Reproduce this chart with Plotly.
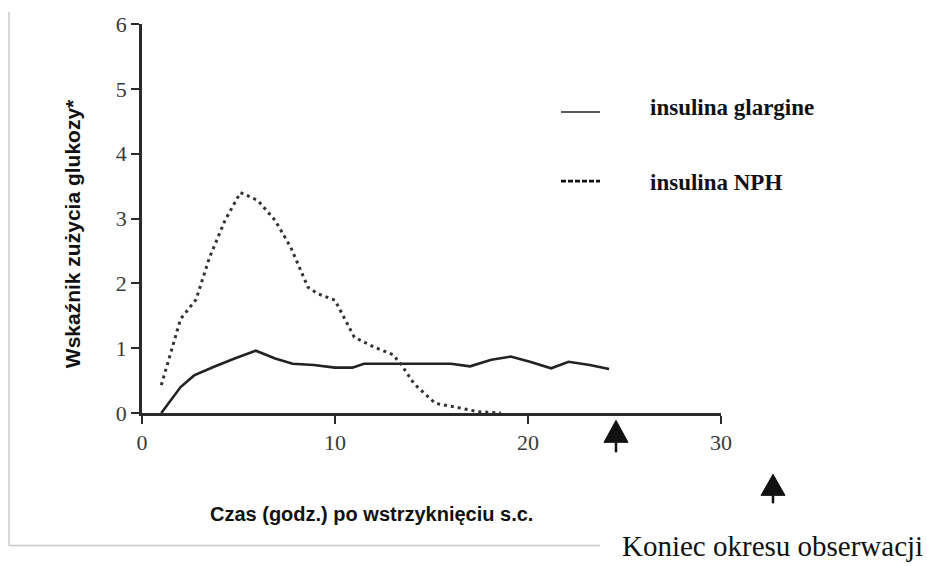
import plotly.graph_objects as go

# ---- data ----
glargine_x = [1, 2, 2.7, 3.7, 4.8, 5.9, 6.9, 7.8, 8.9, 10, 10.9, 11.5, 13.4, 16.0, 17.0, 18.1, 19.1, 20.1, 21.2, 22.1, 23.2, 24.2]
glargine_y = [0, 0.40, 0.58, 0.71, 0.84, 0.96, 0.84, 0.76, 0.74, 0.70, 0.70, 0.76, 0.76, 0.76, 0.72, 0.82, 0.87, 0.79, 0.69, 0.79, 0.74, 0.68]

nph_x = [1, 2, 2.8, 3.5, 4.3, 5.1, 6.0, 6.9, 7.7, 8.6, 9.1, 10.0, 11.0, 12.0, 13.0, 13.4, 14.1, 15.2, 16.6, 17.4, 18.6]
nph_y = [0.43, 1.45, 1.75, 2.40, 2.97, 3.40, 3.28, 2.97, 2.56, 1.94, 1.84, 1.74, 1.17, 1.02, 0.90, 0.76, 0.45, 0.15, 0.07, 0.02, 0.0]

x_ticks = [0, 10, 20, 30]
y_ticks = [0, 1, 2, 3, 4, 5, 6]

series_names = ["insulina glargine", "insulina NPH"]
x_title = "Czas (godz.) po wstrzyknięciu s.c."
y_title = "Wskaźnik zużycia glukozy*"
note_text = "Koniec okresu obserwacji"

# ---- layout geometry (pixels) ----
W, H = 927, 566
L, R = 142, 721          # plot area left/right pixel
T, B = 24, 412.7         # plot area top/bottom pixel


def px(x):
    return (x - L) / (R - L)


def py(y):
    return (B - y) / (B - T)


INK = "#222222"
SERIF = "Liberation Serif, Times New Roman, serif"
SANS = "Liberation Sans, Arial, sans-serif"

fig = go.Figure()
fig.add_trace(go.Scatter(x=glargine_x, y=glargine_y, mode="lines", name=series_names[0],
                         line=dict(color=INK, width=2.6), showlegend=False))
fig.add_trace(go.Scatter(x=nph_x, y=nph_y, mode="lines", name=series_names[1],
                         line=dict(color="#333333", width=3, dash="3px,4px"), showlegend=False))

shapes = []
# light gray frame (left and bottom)
shapes.append(dict(type="line", xref="paper", yref="paper", x0=px(9), x1=px(9), y0=py(12), y1=py(545),
                   line=dict(color="#c8c8c8", width=1.5)))
shapes.append(dict(type="line", xref="paper", yref="paper", x0=px(9), x1=px(600), y0=py(545), y1=py(545),
                   line=dict(color="#c8c8c8", width=1.5)))
# legend samples
shapes.append(dict(type="line", xref="paper", yref="paper", x0=px(561), x1=px(600), y0=py(112), y1=py(112),
                   line=dict(color=INK, width=1.5)))
shapes.append(dict(type="line", xref="paper", yref="paper", x0=px(561), x1=px(600), y0=py(181), y1=py(181),
                   line=dict(color="#111111", width=2.6, dash="5px,2px")))


def arrow(cx, tip, base, stem_end, half=12):
    path = (f"M {px(cx)} {py(tip)} L {px(cx - half)} {py(base)} L {px(cx + half)} {py(base)} Z")
    shapes.append(dict(type="path", xref="paper", yref="paper", path=path,
                       fillcolor="#111111", line=dict(color="#111111", width=1)))
    shapes.append(dict(type="line", xref="paper", yref="paper", x0=px(cx), x1=px(cx),
                       y0=py(base), y1=py(stem_end), line=dict(color="#111111", width=2.5)))


arrow(616, 420, 442, 452)
arrow(773, 474, 495, 503)

annotations = [
    dict(text=f"<b>{series_names[0]}</b>", xref="paper", yref="paper", x=px(648), y=py(107),
         xanchor="left", yanchor="middle", showarrow=False, font=dict(family=SERIF, size=23, color="#111")),
    dict(text=f"<b>{series_names[1]}</b>", xref="paper", yref="paper", x=px(648), y=py(182),
         xanchor="left", yanchor="middle", showarrow=False, font=dict(family=SERIF, size=23, color="#111")),
    dict(text=f"<b>{y_title}</b>", xref="paper", yref="paper", x=px(72), y=py(234), textangle=-90,
         xanchor="center", yanchor="middle", showarrow=False, font=dict(family=SANS, size=21, color="#111")),
    dict(text=f"<b>{x_title}</b>", xref="paper", yref="paper", x=px(371), y=py(514),
         xanchor="center", yanchor="middle", showarrow=False, font=dict(family=SANS, size=20, color="#111")),
    dict(text=note_text, xref="paper", yref="paper", x=px(925), y=py(546),
         xanchor="right", yanchor="middle", showarrow=False, font=dict(family=SERIF, size=29, color="#111")),
]

axis_common = dict(showline=True, linewidth=2.6, linecolor="#2a2a2a", ticks="outside", ticklen=8,
                   tickwidth=2, tickcolor="#2a2a2a", showgrid=False, zeroline=False,
                   tickfont=dict(family=SERIF, size=22, color="#3a3a3a"))

fig.update_layout(
    width=W, height=H, autosize=False,
    margin=dict(l=L, r=W - R, t=T, b=H - B, pad=0),
    paper_bgcolor="white", plot_bgcolor="white",
    xaxis=dict(range=[0, 30], tickvals=x_ticks, **axis_common),
    yaxis=dict(range=[0, 6], tickvals=y_ticks, **axis_common),
    shapes=shapes, annotations=annotations, showlegend=False,
)

fig.write_html("out.html", config={"displayModeBar": False},
               post_script="document.body.style.margin='0';document.body.style.overflow='hidden';")
